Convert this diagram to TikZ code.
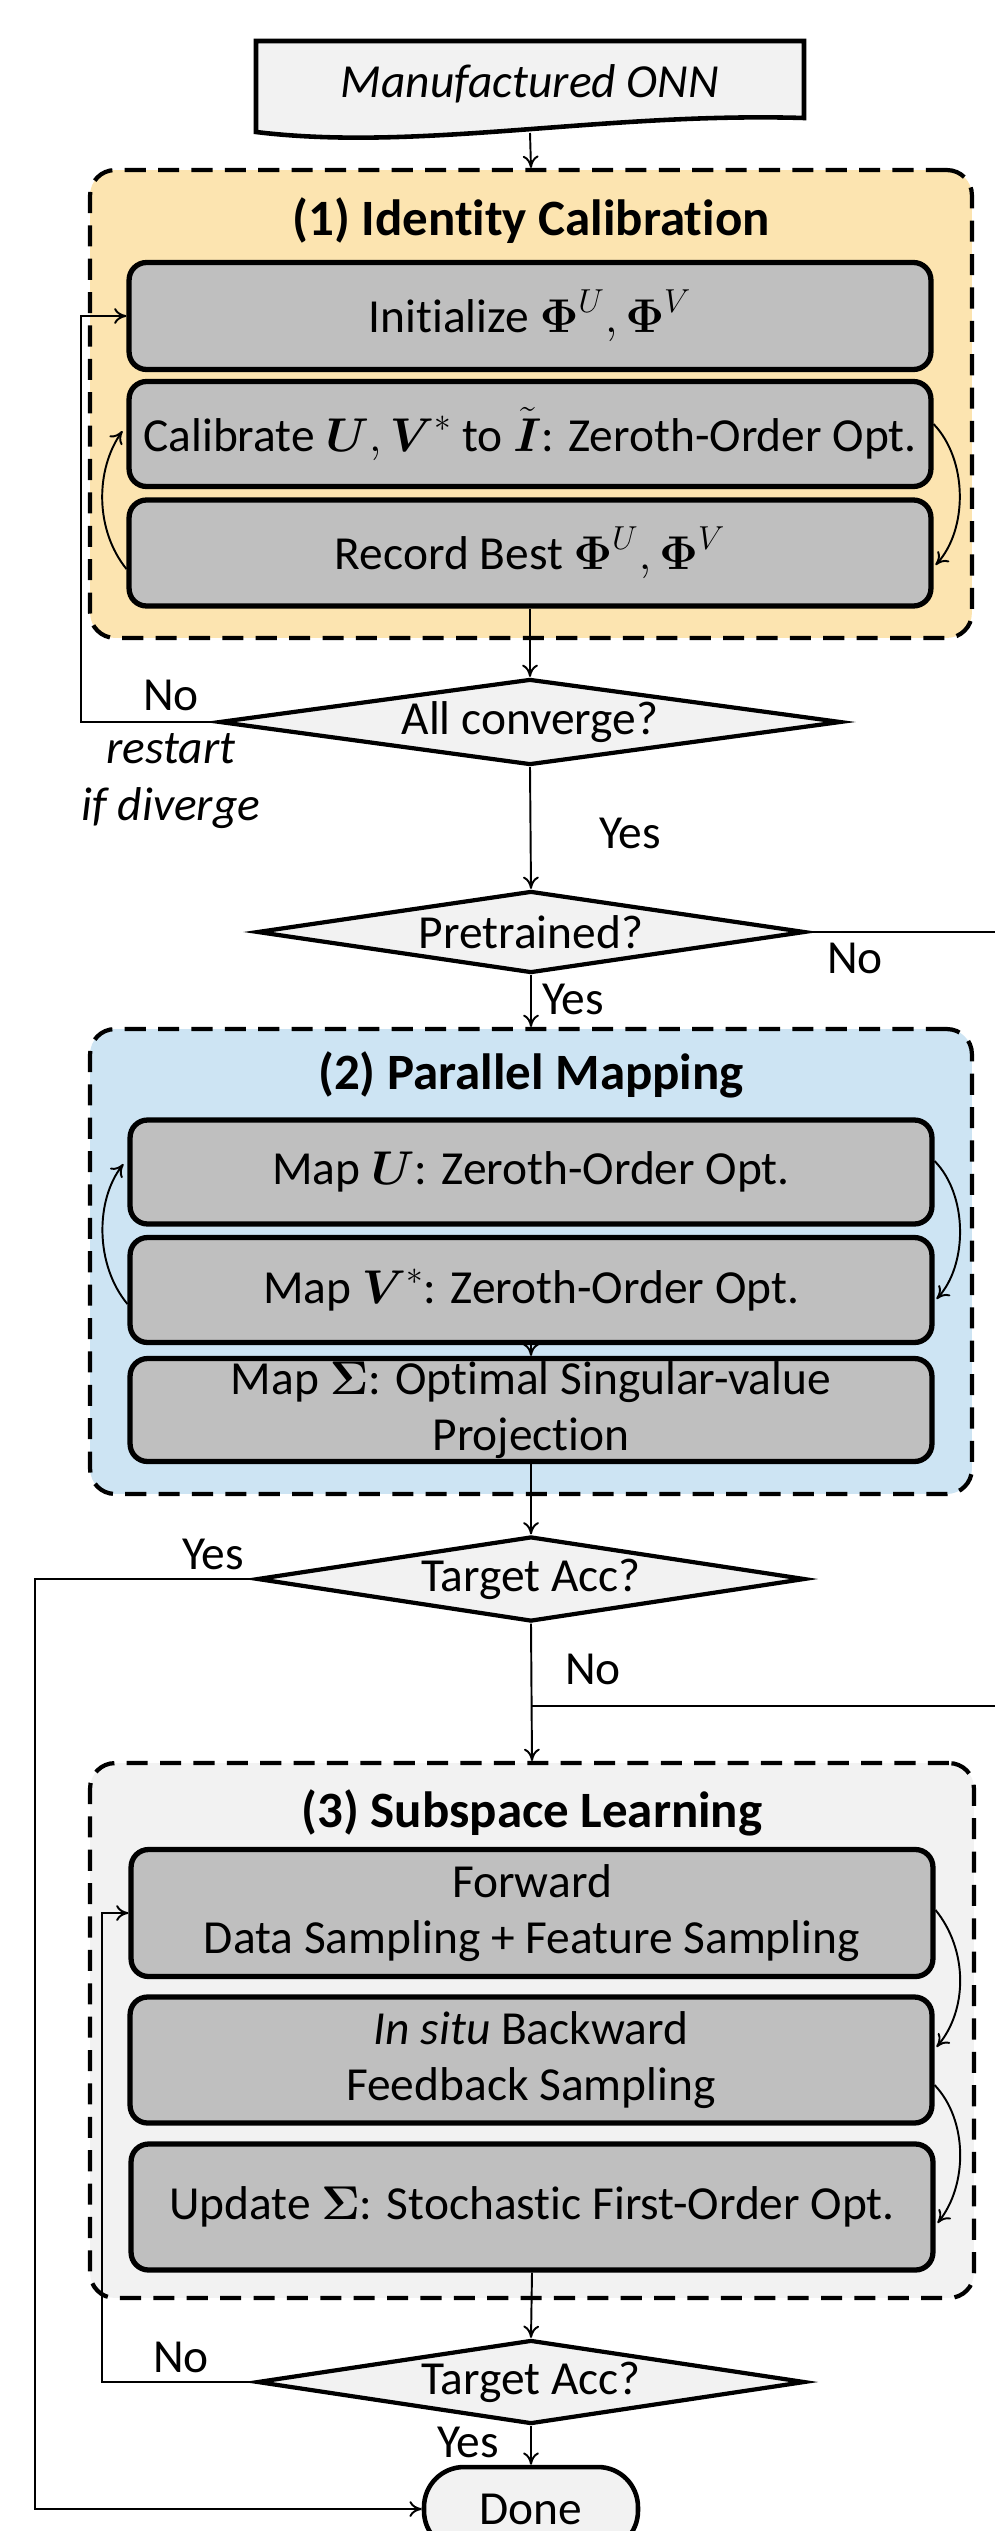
\RequirePackage{fix-cm}
\documentclass[tikz,border=0pt]{standalone}
\usepackage{amsmath}
\usepackage{fontspec}
\setmainfont{Carlito}[Ligatures=CommonOff]
\usetikzlibrary{shapes.geometric,calc,arrows.meta}

\definecolor{orangebg}{RGB}{252,228,176}
\definecolor{bluebg}{RGB}{205,228,243}
\definecolor{greybg}{RGB}{242,242,242}
\definecolor{stepgrey}{RGB}{191,191,191}

\newcommand{\bigtext}{\fontsize{27}{32}\selectfont}
\newcommand{\titletext}{\fontsize{29}{34}\selectfont\bfseries}

\tikzset{
  >={To[length=7pt,width=9pt]},
  phase/.style={draw, line width=2.4pt, dash pattern=on 12pt off 7pt, rounded corners=0.5cm, minimum width=17.64cm},
  stepbox/.style={draw, line width=3pt, fill=stepgrey, rounded corners=0.35cm, minimum width=16.04cm, inner sep=0pt, align=center, font=\bigtext},
  decision/.style={draw, diamond, line width=2.4pt, fill=greybg, inner sep=0pt, font=\bigtext},
  flow/.style={line width=1.1pt, ->},
  line/.style={line width=1.1pt},
  lbl/.style={font=\bigtext},
}

\begin{document}
\begin{tikzpicture}[x=0.02cm, y=-0.02cm]
    \useasboundingbox (0,0) rectangle (995,2531);

    % Input
    \draw[line width=2.6pt, fill=greybg] (256,41) -- (804,41) -- (804,118)
        .. controls (600,112) and (420,152) .. (256,132) -- cycle;
    \node[font=\bigtext\itshape] (onn) at (530,84) {Manufactured ONN};
    \coordinate (onnb) at (530,133);

    % (1) Identity calibration
    \node[phase, fill=orangebg, minimum height=9.36cm] (ph1) at (531,404) {};
    \node[font=\titletext] (t1) at (531,221) {(1) Identity Calibration};
    \node[stepbox, minimum height=2.14cm] (init) at (530,316) {Initialize $\boldsymbol{\Phi}^{U}, \boldsymbol{\Phi}^{V}$};
    \node[stepbox, minimum height=2.1cm] (calib) at (530,434) {Calibrate $\boldsymbol{U}, \boldsymbol{V}^{*}$ to $\tilde{\boldsymbol{I}}$: Zeroth-Order Opt.};
    \node[stepbox, minimum height=2.12cm] (rec) at (530,553) {Record Best $\boldsymbol{\Phi}^{U}, \boldsymbol{\Phi}^{V}$};
    \draw[flow] ($(rec.west)+(0,16)$) .. controls (95,530) and (95,470) .. ($(calib.west)+(-4,-3)$);
    \draw[flow] ($(calib.east)+(0,-10)$) .. controls (968,460) and (968,530) .. ($(rec.east)+(2,12)$);

    \node[decision, aspect=7.23, minimum width=12.44cm, minimum height=1.72cm] (conv) at (530,722) {All converge?};
    \node[lbl] (no1) at (171,695) {No};
    \node[lbl, align=center, font=\bigtext\itshape] (restart) at (171,781) {restart\\if diverge};
    \coordinate (lxa) at (81,0);
    \draw[flow] (conv.west) -- (conv.west -| lxa) |- (init.west);

    \node[decision, aspect=6.7, minimum width=10.96cm, minimum height=1.64cm] (pre) at (531,932) {Pretrained?};
    \node[lbl] (yes1) at (630,833) {Yes};
    \node[lbl] (no2) at (855,958) {No};
    \node[lbl] (yes2) at (573,999) {Yes};
    \coordinate (preout) at (995,932);
    \draw[line] (pre.east) -- (preout);

    % (2) Parallel mapping
    \node[phase, fill=bluebg, minimum height=9.3cm] (ph2) at (531,1261.5) {};
    \node[font=\titletext] (t2) at (531,1075) {(2) Parallel Mapping};
    \node[stepbox, minimum height=2.08cm] (mapu) at (531,1172) {Map $\boldsymbol{U}$: Zeroth-Order Opt.};
    \node[stepbox, minimum height=2.1cm] (mapv) at (531,1290) {Map $\boldsymbol{V}^{*}$: Zeroth-Order Opt.};
    \node[stepbox, minimum height=2.06cm] (maps) at (531,1410) {Map $\boldsymbol{\Sigma}$: Optimal Singular-value\\Projection};
    \draw[flow] (mapv.south) -- (maps.north);
    \draw[flow] ($(mapv.west)+(0,14)$) .. controls (95,1265) and (95,1200) .. ($(mapu.west)+(-4,-8)$);
    \draw[flow] ($(mapu.east)+(0,-11)$) .. controls (968,1195) and (968,1265) .. ($(mapv.east)+(2,9)$);

    \node[decision, aspect=6.7, minimum width=10.96cm, minimum height=1.7cm] (acc1) at (531,1579) {Target Acc?};
    \node[lbl] (yes3) at (213,1554) {Yes};
    \node[lbl] (no3) at (593,1669) {No};
    \coordinate (accjoin) at (531,1706);
    \coordinate (accout) at (995,1706);
    \draw[line] (accjoin) -- (accout);

    % (3) Subspace learning
    \node[phase, fill=greybg, minimum height=10.7cm, minimum width=17.68cm] (ph3) at (532,2030.5) {};
    \node[font=\titletext] (t3) at (532,1813) {(3) Subspace Learning};
    \node[stepbox, minimum height=2.54cm] (fwd) at (532,1913) {Forward\\Data Sampling + Feature Sampling};
    \node[stepbox, minimum height=2.52cm] (bwd) at (531,2060) {\textit{In situ} Backward\\Feedback Sampling};
    \node[stepbox, minimum height=2.52cm] (upd) at (532,2207) {Update $\boldsymbol{\Sigma}$: Stochastic First-Order Opt.};
    \draw[flow] ($(fwd.east)+(0,-3)$) .. controls (968,1950) and (968,2010) .. ($(bwd.east)+(2,-13)$);
    \draw[flow] ($(bwd.east)+(0,25)$) .. controls (968,2120) and (968,2185) .. ($(upd.east)+(2,16)$);

    \node[decision, aspect=6.7, minimum width=10.96cm, minimum height=1.68cm] (acc2) at (531,2382) {Target Acc?};
    \node[lbl] (no4) at (181,2357) {No};
    \node[lbl] (yes4) at (468,2442) {Yes};
    \coordinate (lxb) at (102,0);
    \draw[flow] (acc2.west) -- (acc2.west -| lxb) |- (fwd.west);

    \node[draw, line width=2.6pt, fill=greybg, rounded corners=0.8cm, minimum width=4.28cm, minimum height=1.68cm, font=\bigtext] (done) at (531,2509) {Done};
    \coordinate (lxc) at (35,0);
    \draw[flow] (acc1.west) -- (acc1.west -| lxc) |- (done.west);

    % Main flow
    \draw[flow] (onnb) -- (ph1.north);
    \draw[flow] (rec.south) -- (conv.north);
    \draw[flow] (conv.south) -- (pre.north);
    \draw[flow] (pre.south) -- (ph2.north);
    \draw[flow] (maps.south) -- (acc1.north);
    \draw[flow] (acc1.south) -- (ph3.north);
    \draw[flow] (upd.south) -- (acc2.north);
    \draw[flow] (acc2.south) -- (done.north);
\end{tikzpicture}
\end{document}
